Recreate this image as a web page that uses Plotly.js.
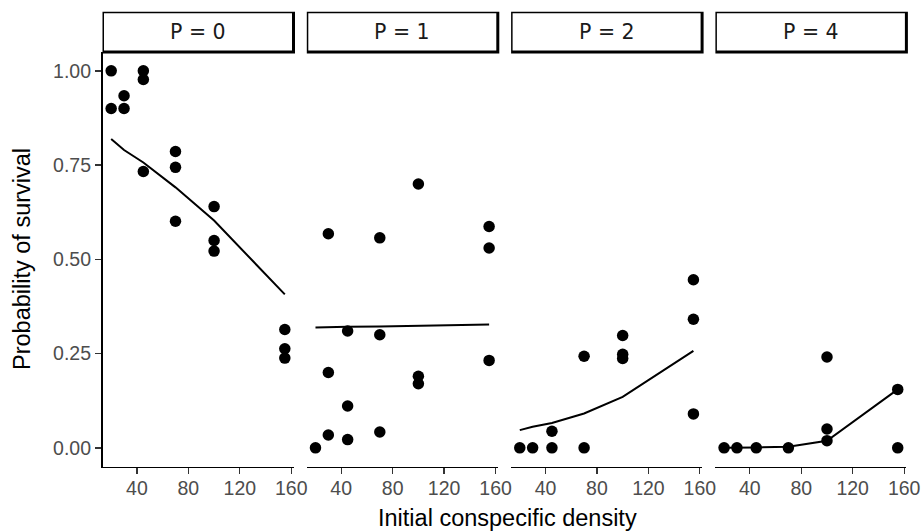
<!DOCTYPE html>
<html>
<head>
<meta charset="utf-8">
<script src="https://cdn.plot.ly/plotly-3.0.1.min.js"></script>
<style>html,body{margin:0;padding:0;background:#fff;}#chart{width:922px;height:531px;}</style>
</head>
<body>
<div id="chart"></div>
<script>
// ---- data ----
const panelLabels = ["P = 0", "P = 1", "P = 2", "P = 4"];
const fitDensity = [20, 30, 45, 70, 100, 155];

const p0X = [20, 20, 30, 30, 45, 45, 45, 70, 70, 70, 100, 100, 100, 155, 155, 155];
const p0Y = [1.00, 0.90, 0.934, 0.90, 1.00, 0.977, 0.733, 0.786, 0.744, 0.601, 0.640, 0.550, 0.522, 0.314, 0.263, 0.238];
const p1X = [20, 30, 30, 30, 45, 45, 45, 70, 70, 70, 100, 100, 100, 155, 155, 155];
const p1Y = [0.00, 0.568, 0.200, 0.034, 0.310, 0.111, 0.022, 0.557, 0.300, 0.042, 0.700, 0.190, 0.170, 0.587, 0.530, 0.232];
const p2X = [20, 30, 45, 45, 70, 70, 100, 100, 100, 155, 155, 155];
const p2Y = [0.00, 0.00, 0.00, 0.044, 0.00, 0.243, 0.298, 0.248, 0.237, 0.446, 0.341, 0.090];
const p4X = [20, 30, 45, 70, 100, 100, 100, 155, 155];
const p4Y = [0.00, 0.00, 0.00, 0.00, 0.241, 0.050, 0.019, 0.155, 0.00];

const fit0 = [0.819, 0.790, 0.757, 0.691, 0.603, 0.407];
const fit1 = [0.319, 0.320, 0.321, 0.322, 0.324, 0.327];
const fit2 = [0.047, 0.056, 0.066, 0.091, 0.135, 0.257];
const fit4 = [0.000, 0.000, 0.001, 0.003, 0.019, 0.155];

const xTicks = [40, 80, 120, 160];
const yTicks = [0, 0.25, 0.5, 0.75, 1];
const xTitle = "Initial conspecific density";
const yTitle = "Probability of survival";

// ---- layout geometry (pixels) ----
const W = 922, H = 531;
const fx = p => p / W;
const fy = p => 1 - p / H;
const panelLeft = 102.5, panelW = 191, panelGap = 13.3;
const plotTop = 52, plotBottom = 466.7, stripTop = 11.7;

const pointsX = [p0X, p1X, p2X, p4X];
const pointsY = [p0Y, p1Y, p2Y, p4Y];
const fits = [fit0, fit1, fit2, fit4];

const traces = [];
const layout = {
  width: W, height: H,
  margin: {l: 0, r: 0, t: 0, b: 0},
  paper_bgcolor: "#fff", plot_bgcolor: "#fff",
  showlegend: false,
  font: {family: "Liberation Sans, Arial, sans-serif", color: "#4D4D4D"},
  shapes: [], annotations: []
};

const axisNames = ["x", "x2", "x3", "x4"];
for (let i = 0; i < 4; i++) {
  const xa = axisNames[i];
  const left = panelLeft + i * (panelW + panelGap);
  const right = left + panelW;
  traces.push({
    type: "scatter", mode: "lines", x: fitDensity, y: fits[i],
    xaxis: xa, yaxis: "y", line: {color: "#000", width: 2}, hoverinfo: "skip",
    cliponaxis: false
  });
  traces.push({
    type: "scatter", mode: "markers", x: pointsX[i], y: pointsY[i],
    xaxis: xa, yaxis: "y", marker: {color: "#000", size: 11.5}, hoverinfo: "skip",
    cliponaxis: false
  });
  const key = i === 0 ? "xaxis" : "xaxis" + (i + 1);
  layout[key] = {
    domain: [fx(left), fx(right)],
    range: [13.25, 161.75],
    anchor: "y",
    tickvals: xTicks,
    ticks: "outside", ticklen: 6, tickwidth: 1.3, tickcolor: "#333",
    ticklabelstandoff: -3,
    showline: true, linecolor: "#000", linewidth: 1.6,
    showgrid: false, zeroline: false,
    tickfont: {size: 19.5, color: "#4D4D4D", family: "Liberation Sans, Arial, sans-serif"}
  };
  // strip: shadow + box
  layout.shapes.push({
    type: "rect", xref: "paper", yref: "paper",
    x0: fx(left), x1: fx(right + 1.5), y0: fy(plotTop + 1.5), y1: fy(stripTop),
    fillcolor: "#000", line: {width: 0}
  });
  layout.shapes.push({
    type: "rect", xref: "paper", yref: "paper",
    x0: fx(left + 1.5), x1: fx(right - 1.5), y0: fy(plotTop - 1.5), y1: fy(stripTop + 1.5),
    fillcolor: "#fff", line: {width: 0}
  });
  layout.annotations.push({
    xref: "paper", yref: "paper", x: fx((left + right) / 2), y: fy(32),
    xanchor: "center", yanchor: "middle", showarrow: false,
    text: panelLabels[i],
    font: {family: "DejaVu Sans, sans-serif", size: 20.5, color: "#1A1A1A"}
  });
}

layout.yaxis = {
  domain: [fy(plotBottom), fy(plotTop)],
  range: [-0.05, 1.05],
  anchor: "x",
  tickvals: yTicks, tickformat: ".2f",
  ticks: "outside", ticklen: 6, tickwidth: 1.3, tickcolor: "#333",
  showline: true, linecolor: "#000", linewidth: 1.6,
  showgrid: false, zeroline: false,
  tickfont: {size: 19.5, color: "#4D4D4D", family: "Liberation Sans, Arial, sans-serif"}
};

layout.annotations.push({
  xref: "paper", yref: "paper", x: fx(507), y: fy(518),
  xanchor: "center", yanchor: "middle", showarrow: false,
  text: xTitle, font: {size: 23.5, color: "#000", family: "Liberation Sans, Arial, sans-serif"}
});
layout.annotations.push({
  xref: "paper", yref: "paper", x: fx(22), y: fy(259),
  xanchor: "center", yanchor: "middle", showarrow: false, textangle: -90,
  text: yTitle, font: {size: 23.5, color: "#000", family: "Liberation Sans, Arial, sans-serif"}
});

Plotly.newPlot("chart", traces, layout, {staticPlot: true, displayModeBar: false});
</script>
</body>
</html>
